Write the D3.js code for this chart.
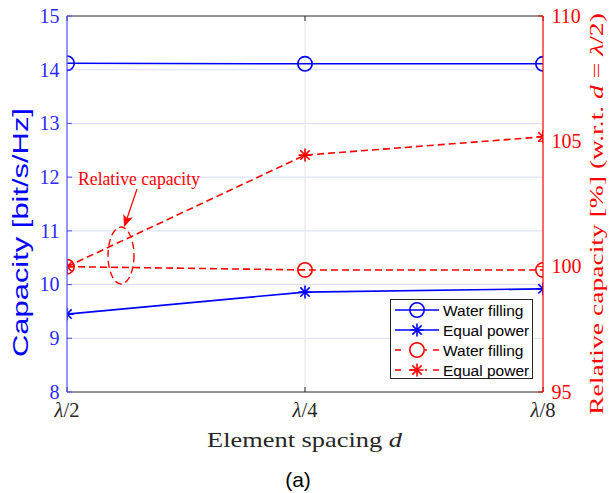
<!DOCTYPE html>
<html>
<head>
<meta charset="utf-8">
<script src="https://cdn.jsdelivr.net/npm/d3@7"></script>
<style>
  html, body { margin: 0; padding: 0; background: #fff; }
  svg { display: block; }
</style>
</head>
<body>
<svg id="chart" width="615" height="493"></svg>
<script>
// Element spacing categories
const categories = ["λ/2", "λ/4", "λ/8"];
// Capacity [bit/s/Hz] (left axis)
const waterFillingCap = [14.12, 14.11, 14.11];
const equalPowerCap = [9.45, 9.86, 9.92];
// Relative capacity [%] w.r.t. d = λ/2 (right axis)
const waterFillingRel = [100, 99.87, 99.87];
const equalPowerRel = [100, 104.45, 105.18];
// Axis ticks
const leftTicks = [8, 9, 10, 11, 12, 13, 14, 15];
const rightTicks = [95, 100, 105, 110];
const legendLabels = ["Water filling", "Equal power", "Water filling", "Equal power"];

const svg = d3.select("#chart");
const L = 67, R = 543, T = 16, B = 392;
const serif = "'Liberation Serif', 'Times New Roman', serif";
const sans = "'Liberation Sans', Arial, sans-serif";
const BLUE = "#0000ff", RED = "#ff0000", DARK = "#262626";

const x = d3.scalePoint().domain(categories).range([L, R]);
const yL = d3.scaleLinear().domain([8, 15]).range([B, T]);
const yR = d3.scaleLinear().domain([95, 110]).range([B, T]);

// Place a text block centred at (cx, cy), rotated by `angle`, and widened
// along its baseline so that it spans `len` pixels.
function placeText(g, cx, cy, angle, len) {
  const w = g.node().getComputedTextLength();
  const k = len / w;
  g.attr("text-anchor", "middle")
   .attr("transform", `translate(${cx},${cy}) rotate(${angle}) scale(${k},1)`);
}

// grid
const grid = svg.append("g");
grid.selectAll("line.h").data(leftTicks.slice(1, -1)).join("line")
  .attr("x1", L).attr("x2", R)
  .attr("y1", d => yL(d)).attr("y2", d => yL(d))
  .attr("stroke", "#dcdcfb").attr("stroke-width", 1);
grid.selectAll("line.v").data(categories.slice(1, -1)).join("line")
  .attr("x1", d => x(d)).attr("x2", d => x(d))
  .attr("y1", T).attr("y2", B)
  .attr("stroke", "#e3e3e3").attr("stroke-width", 1);

// clip for data
svg.append("clipPath").attr("id", "plotclip")
  .append("rect").attr("x", L).attr("y", T).attr("width", R - L).attr("height", B - T);
const plot = svg.append("g").attr("clip-path", "url(#plotclip)");

function starPath(cx, cy, r) {
  const d = r * 0.72;
  return `M${cx - r},${cy}L${cx + r},${cy}M${cx},${cy - r}L${cx},${cy + r}` +
         `M${cx - d},${cy - d}L${cx + d},${cy + d}M${cx - d},${cy + d}L${cx + d},${cy - d}`;
}

const series = [
  { vals: waterFillingCap, y: yL, color: BLUE, dash: null, marker: "circle" },
  { vals: equalPowerCap, y: yL, color: BLUE, dash: null, marker: "star" },
  { vals: waterFillingRel, y: yR, color: RED, dash: "7,4", marker: "circle" },
  { vals: equalPowerRel, y: yR, color: RED, dash: "7,4", marker: "star" }
];

series.forEach(s => {
  const pts = categories.map((c, i) => [x(c), s.y(s.vals[i])]);
  plot.append("path")
    .attr("d", d3.line()(pts))
    .attr("fill", "none").attr("stroke", s.color).attr("stroke-width", 1.6)
    .attr("stroke-dasharray", s.dash);
  pts.forEach(p => {
    if (s.marker === "circle") {
      plot.append("circle").attr("cx", p[0]).attr("cy", p[1]).attr("r", 7.2)
        .attr("fill", "none").attr("stroke", s.color).attr("stroke-width", 1.6);
    } else {
      plot.append("path").attr("d", starPath(p[0], p[1], 6.5))
        .attr("fill", "none").attr("stroke", s.color).attr("stroke-width", 1.6);
    }
  });
});

// frame: top and bottom
svg.append("line").attr("x1", L).attr("x2", R).attr("y1", T).attr("y2", T)
  .attr("stroke", DARK).attr("stroke-width", 1);
svg.append("line").attr("x1", L).attr("x2", R).attr("y1", B).attr("y2", B)
  .attr("stroke", DARK).attr("stroke-width", 1);

// x ticks (inward)
categories.forEach(c => {
  svg.append("line").attr("x1", x(c)).attr("x2", x(c)).attr("y1", B).attr("y2", B - 5)
    .attr("stroke", DARK);
  svg.append("line").attr("x1", x(c)).attr("x2", x(c)).attr("y1", T).attr("y2", T + 5)
    .attr("stroke", DARK);
});
svg.selectAll("text.xt").data(categories).join("text")
  .attr("x", d => x(d)).attr("y", 417)
  .attr("text-anchor", "middle")
  .attr("font-family", serif).attr("font-size", 20.5).attr("fill", DARK)
  .each(function(d) {
    const parts = d.split("/");
    d3.select(this).append("tspan").attr("font-style", "italic").text(parts[0]);
    d3.select(this).append("tspan").text("/" + parts[1]);
  });

// left axis
svg.append("line").attr("x1", L).attr("x2", L).attr("y1", T).attr("y2", B)
  .attr("stroke", "#4d4dff").attr("stroke-width", 1.2);
leftTicks.forEach(t => {
  svg.append("line").attr("x1", L).attr("x2", L + 5).attr("y1", yL(t)).attr("y2", yL(t))
    .attr("stroke", "#4d4dff");
});
svg.selectAll("text.yl").data(leftTicks).join("text")
  .attr("x", 59.5).attr("y", d => yL(d) + 6.8)
  .attr("text-anchor", "end")
  .attr("font-family", serif).attr("font-size", 20).attr("fill", "#2a2aff")
  .text(d => d);

// right axis
svg.append("line").attr("x1", R).attr("x2", R).attr("y1", T).attr("y2", B)
  .attr("stroke", RED).attr("stroke-width", 1.2);
rightTicks.forEach(t => {
  svg.append("line").attr("x1", R).attr("x2", R - 5).attr("y1", yR(t)).attr("y2", yR(t))
    .attr("stroke", RED);
});
svg.selectAll("text.yr").data(rightTicks).join("text")
  .attr("x", 551.5).attr("y", d => yR(d) + 6.8)
  .attr("text-anchor", "start")
  .attr("font-family", serif).attr("font-size", 20).attr("fill", RED)
  .text(d => d);

// axis titles
const lt = svg.append("text")
  .attr("font-family", sans).attr("font-size", 22).attr("fill", BLUE)
  .text("Capacity [bit/s/Hz]");
placeText(lt, 28, 232.5, -90, 249);

const rt = svg.append("text")
  .attr("font-family", serif).attr("font-size", 19.5).attr("fill", RED);
rt.append("tspan").text("Relative capacity [%] (w.r.t. ");
rt.append("tspan").attr("font-style", "italic").text("d");
rt.append("tspan").text(" = ");
rt.append("tspan").attr("font-style", "italic").text("λ");
rt.append("tspan").text("/2)");
placeText(rt, 603, 214, -90, 402);

const xt = svg.append("text")
  .attr("font-family", serif).attr("font-size", 20.5).attr("fill", DARK);
xt.append("tspan").text("Element spacing ");
xt.append("tspan").attr("font-style", "italic").text("d");
placeText(xt, 304.5, 447, 0, 195);

svg.append("text")
  .attr("x", 298).attr("y", 487)
  .attr("text-anchor", "middle")
  .attr("font-family", sans).attr("font-size", 21).attr("fill", "#000")
  .text("(a)");

// annotation
svg.append("defs").append("marker")
  .attr("id", "arrowhead").attr("viewBox", "0 0 12 10")
  .attr("refX", 11).attr("refY", 5)
  .attr("markerWidth", 13).attr("markerHeight", 10)
  .attr("markerUnits", "userSpaceOnUse")
  .attr("orient", "auto")
  .append("path").attr("d", "M0,0L12,5L0,10L3,5z").attr("fill", RED);
const at = svg.append("text")
  .attr("font-family", serif).attr("font-size", 18).attr("fill", RED)
  .text("Relative capacity");
placeText(at, 139, 185, 0, 122);
svg.append("line")
  .attr("x1", 137).attr("y1", 189).attr("x2", 124.5).attr("y2", 226)
  .attr("stroke", RED).attr("stroke-width", 1.2)
  .attr("marker-end", "url(#arrowhead)");
svg.append("ellipse")
  .attr("cx", 121).attr("cy", 255.5).attr("rx", 13).attr("ry", 28.5)
  .attr("fill", "none").attr("stroke", RED).attr("stroke-width", 1.4)
  .attr("stroke-dasharray", "7,4");

// legend
const lg = svg.append("g");
lg.append("rect").attr("x", 390.5).attr("y", 299.5).attr("width", 142).attr("height", 79)
  .attr("fill", "#fff").attr("stroke", DARK).attr("stroke-width", 1);
series.forEach((s, i) => {
  const yy = 310 + i * 20;
  lg.append("line").attr("x1", 395).attr("x2", 439).attr("y1", yy).attr("y2", yy)
    .attr("stroke", s.color).attr("stroke-width", 1.6)
    .attr("stroke-dasharray", s.dash ? "6,8,8,8,2" : null);
  if (s.marker === "circle") {
    lg.append("circle").attr("cx", 417).attr("cy", yy).attr("r", 7.2)
      .attr("fill", "#fff").attr("fill-opacity", s.dash ? 1 : 0)
      .attr("stroke", s.color).attr("stroke-width", 1.6);
  } else {
    lg.append("path").attr("d", starPath(417, yy, 6.5))
      .attr("fill", "none").attr("stroke", s.color).attr("stroke-width", 1.6);
  }
  lg.append("text").attr("x", 443).attr("y", yy + 5.5)
    .attr("font-family", sans).attr("font-size", 15.5).attr("fill", "#000")
    .text(legendLabels[i]);
});
</script>
</body>
</html>
